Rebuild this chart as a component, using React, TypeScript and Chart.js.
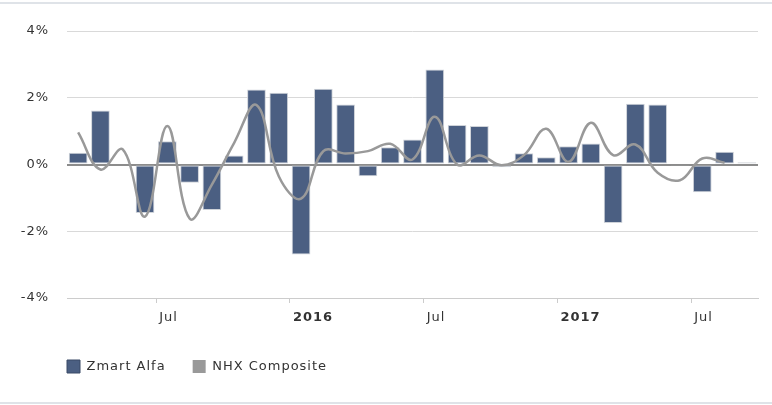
import React, { useEffect, useRef } from 'react';
import { Chart, registerables } from 'chart.js';

Chart.register(...registerables);

// Monthly categories (Mar 2015 .. Sep 2017)
const months = [
  '2015-03', '2015-04', '2015-05', '2015-06', '2015-07', '2015-08', '2015-09', '2015-10', '2015-11', '2015-12',
  '2016-01', '2016-02', '2016-03', '2016-04', '2016-05', '2016-06', '2016-07', '2016-08', '2016-09', '2016-10', '2016-11', '2016-12',
  '2017-01', '2017-02', '2017-03', '2017-04', '2017-05', '2017-06', '2017-07', '2017-08', '2017-09',
];

// Zmart Alfa monthly return (%)
const zmartAlfa: (number | null)[] = [
  0.35, 1.62, null, -1.45, 0.7, -0.55, -1.36, 0.27, 2.25, 2.15,
  -2.7, 2.27, 1.8, -0.35, 0.52, 0.75, 2.85, 1.18, 1.15, -0.08, 0.34, 0.22,
  0.55, 0.63, -1.75, 1.82, 1.8, -0.02, -0.83, 0.38, 0.07,
];

// NHX Composite monthly return (%)
const nhxComposite: (number | null)[] = [
  0.96, -0.15, 0.45, -1.56, 1.15, -1.62, -0.6, 0.65, 1.78, -0.35,
  -1.02, 0.4, 0.33, 0.4, 0.62, 0.15, 1.43, 0.0, 0.27, -0.02, 0.28, 1.07,
  0.08, 1.25, 0.28, 0.6, -0.25, -0.47, 0.18, 0.05, null,
];

const tickMonths = ['2015-07', '2016-01', '2016-07', '2017-01', '2017-07'];
const tickLabels = ['Jul', '2016', 'Jul', '2017', 'Jul'];
const yearLabels = ['2016', '2017'];
const yTicks = [-4, -2, 0, 2, 4];

const FONT = '"DejaVu Sans", Verdana, sans-serif';
const BAR_COLOR = '#4b5f82';
const LINE_COLOR = '#999999';
const LEGEND_PAD = 27;

export default function App() {
  const ref = useRef<HTMLCanvasElement>(null);

  useEffect(() => {
    if (!ref.current) return;
    const tickValues = tickMonths.map((m) => months.indexOf(m));
    const barData = zmartAlfa.map((v, i) => ({ x: i + 0.5, y: v }));
    const lineData = nhxComposite
      .map((v, i) => ({ x: i + 0.5, y: v }))
      .filter((p) => p.y !== null);

    const spacing = {
      id: 'spacing',
      beforeUpdate(c: any) { c.ctx.letterSpacing = '1px'; },
      beforeLayout(c: any) { c.ctx.letterSpacing = '1px'; },
      beforeDraw(c: any) { c.ctx.letterSpacing = '1px'; },
    };
    const legendShift = {
      id: 'legendShift',
      afterLayout(c: any) {
        if (c.legend) c.legend.left = c.chartArea.left - LEGEND_PAD;
      },
    };
    const frame = {
      id: 'frame',
      beforeDraw(c: any) {
        const ctx = c.ctx;
        ctx.save();
        ctx.fillStyle = '#dfe3e8';
        ctx.fillRect(0, 2, c.width, 2);
        ctx.fillRect(0, 402, c.width, 2);
        ctx.restore();
      },
    };

    const chart = new Chart(ref.current, {
      type: 'bar',
      data: {
        datasets: [
          {
            type: 'bar',
            label: 'Zmart Alfa',
            data: barData as any,
            backgroundColor: BAR_COLOR,
            borderColor: '#cfd3d9',
            borderWidth: 1,
            borderSkipped: false,
            categoryPercentage: 0.84,
            barPercentage: 1,
            order: 2,
          },
          {
            type: 'line',
            label: 'NHX Composite',
            data: lineData as any,
            borderColor: LINE_COLOR,
            backgroundColor: LINE_COLOR,
            borderWidth: 2.5,
            pointRadius: 0,
            tension: 0.4,
            order: 1,
          },
        ] as any,
      },
      options: {
        responsive: false,
        animation: false,
        layout: { padding: { left: 0, right: 14, top: 31, bottom: 22 } },
        plugins: {
          tooltip: { enabled: false },
          legend: {
            position: 'bottom',
            align: 'start',
            labels: {
              boxWidth: 13,
              boxHeight: 13,
              padding: LEGEND_PAD,
              color: '#333333',
              font: { family: FONT, size: 13 },
              sort: (a: any, b: any) => a.datasetIndex - b.datasetIndex,
              generateLabels: (c: any) => {
                const items = (Chart.defaults.plugins.legend.labels as any).generateLabels(c);
                return items.map((it: any) => {
                  if (it.datasetIndex === 0) {
                    return { ...it, fillStyle: BAR_COLOR, strokeStyle: '#3a4a66', lineWidth: 1 };
                  }
                  return { ...it, fillStyle: LINE_COLOR, strokeStyle: LINE_COLOR, lineWidth: 0, lineDash: [] };
                });
              },
            },
          },
        },
        scales: {
          x: {
            type: 'linear',
            min: 0,
            max: months.length,
            offset: false,
            afterBuildTicks: (s: any) => {
              s.ticks = tickValues.map((v) => ({ value: v }));
            },
            afterFit: (s: any) => {
              s.height = 35;
            },
            grid: {
              display: true,
              drawOnChartArea: false,
              drawTicks: true,
              tickLength: 5,
              tickColor: '#cccccc',
              offset: false,
            },
            border: { display: true, color: '#cccccc', width: 1 },
            ticks: {
              align: 'start',
              labelOffset: 3,
              maxRotation: 0,
              autoSkip: false,
              padding: 7,
              color: '#333333',
              callback: (v: any) => tickLabels[tickValues.indexOf(Number(v))] ?? '',
              font: (c: any) => {
                const idx = c.tick ? tickValues.indexOf(c.tick.value) : -1;
                const lbl = idx >= 0 ? tickLabels[idx] : '';
                return { family: FONT, size: 13, weight: yearLabels.includes(lbl) ? 'bold' : 'normal' };
              },
            } as any,
          },
          y: {
            min: -4,
            max: 4,
            afterBuildTicks: (s: any) => {
              s.ticks = yTicks.map((v) => ({ value: v }));
            },
            afterFit: (s: any) => {
              s.width = 67;
            },
            grid: {
              drawTicks: false,
              color: (c: any) => (c.tick && c.tick.value === 0 ? '#8c8c8c' : '#d9d9d9'),
              lineWidth: (c: any) => (c.tick && c.tick.value === 0 ? 2 : 1),
            },
            border: { display: false },
            ticks: {
              padding: 18,
              color: '#333333',
              font: { family: FONT, size: 13 },
              callback: (v: any) => v + '%',
            },
          },
        },
      } as any,
      plugins: [spacing, legendShift, frame],
    });
    return () => chart.destroy();
  }, []);

  return (
    <div style={{ position: 'fixed', left: 0, top: 0, width: 772, height: 405, background: '#ffffff' }}>
      <canvas ref={ref} width={772} height={405} style={{ display: 'block', width: 772, height: 405 }} />
    </div>
  );
}
